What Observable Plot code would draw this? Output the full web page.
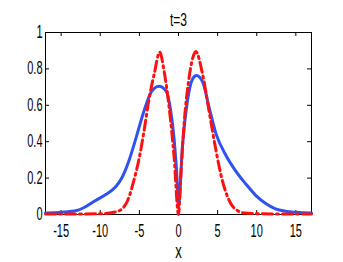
<!DOCTYPE html>
<html><head><meta charset="utf-8">
<script src="https://cdn.jsdelivr.net/npm/d3@7"></script>
<script src="https://cdn.jsdelivr.net/npm/@observablehq/plot@0.6"></script>
<style>body{margin:0;background:#fff}</style>
</head><body><div id="chart"></div>
<script>
// Data
const blueX = [-17, -15, -13, -12, -10.6, -9.3, -8, -7.2, -6.3, -5.5, -4.4, -3.5, -2.5, -1.6, -1, -0.55, -0.15, 0, 0.5, 1.15, 1.8, 2.3, 3.1, 3.9, 4.8, 6, 7.3, 8.6, 9.9, 11.2, 12.4, 13.7, 15, 17];
const blueY = [0.008, 0.012, 0.022, 0.04, 0.077, 0.11, 0.154, 0.205, 0.30, 0.41, 0.57, 0.672, 0.705, 0.68, 0.57, 0.41, 0.17, 0.04, 0.37, 0.626, 0.745, 0.764, 0.727, 0.59, 0.443, 0.33, 0.24, 0.168, 0.104, 0.059, 0.031, 0.018, 0.012, 0.008];
const redX = [-17, -12, -9.5, -8.3, -7.4, -6.5, -5.7, -5.0, -4.4, -3.8, -3.1, -2.4, -1.85, -1.2, -0.56, 0, 0.3, 0.72, 1.36, 2.0, 2.2, 3.07, 3.9, 4.8, 5.6, 6.7, 7.6, 8.5, 12, 17];
const redY = [0.003, 0.003, 0.005, 0.012, 0.025, 0.077, 0.187, 0.315, 0.46, 0.626, 0.773, 0.892, 0.79, 0.59, 0.315, 0, 0.22, 0.5, 0.754, 0.883, 0.895, 0.773, 0.57, 0.35, 0.187, 0.059, 0.02, 0.008, 0.003, 0.003];
const xTicks = [-15, -10, -5, 0, 5, 10, 15];
const xTickLabels = ["-15", "-10", "-5", "0", "5", "10", "15"];
const yTicks = [0, 0.2, 0.4, 0.6, 0.8, 1];
const yTickLabels = ["0", "0.2", "0.4", "0.6", "0.8", "1"];
const title = "t=3";
const xLabel = "x";

const blue = blueX.map((x, i) => ({x, y: blueY[i]}));
const red = redX.map((x, i) => ({x, y: redY[i]}));

const W = 343, H = 262, mL = 45, mR = 32, mT = 32, mB = 48;
const fw = W - mL - mR, fh = H - mT - mB, tk = 4;

const chart = Plot.plot({
  width: W, height: H,
  marginLeft: mL, marginRight: mR, marginTop: mT, marginBottom: mB,
  style: {fontFamily: "'Liberation Sans', Arial, sans-serif", fontSize: "11px", background: "#fff", color: "#000"},
  x: {domain: [-17, 17], axis: null},
  y: {domain: [0, 1], axis: null},
  marks: [
    Plot.frame({stroke: "#000", strokeWidth: 1}),
    Plot.tickX(xTicks, {x: d => d, insetTop: fh - tk, stroke: "#000"}),
    Plot.tickX(xTicks, {x: d => d, insetBottom: fh - tk, stroke: "#000"}),
    Plot.tickY(yTicks, {y: d => d, insetRight: fw - tk, stroke: "#000"}),
    Plot.tickY(yTicks, {y: d => d, insetLeft: fw - tk, stroke: "#000"}),
    Plot.line(blue, {x: "x", y: "y", curve: "monotone-x", stroke: "#2f52f0", strokeWidth: 3}),
    Plot.line(red, {x: "x", y: "y", curve: "monotone-x", stroke: "#ff1010", strokeWidth: 3, strokeDasharray: "10,4,2,4"}),
    Plot.text(xTicks, {x: d => d, frameAnchor: "bottom", dy: 21, text: (d, i) => xTickLabels[i], fill: "#000"}),
    Plot.text(yTicks, {y: d => d, frameAnchor: "left", dx: -3, textAnchor: "end", text: (d, i) => yTickLabels[i], fill: "#000"}),
    Plot.text([title], {frameAnchor: "top", dy: -18, text: d => d, fontSize: 12, fill: "#000"}),
    Plot.text([xLabel], {frameAnchor: "bottom", dy: 41, text: d => d, fontSize: 13, fill: "#000"})
  ]
});

document.getElementById("chart").appendChild(chart);

// stretch text vertically like the reference, keeping each text's visual centre
d3.select(chart).selectAll("text").each(function() {
  const t = d3.select(this);
  const r0 = this.getBoundingClientRect();
  const c0 = r0.top + r0.height / 2;
  const x = +t.attr("x") || 0, y = +t.attr("y") || 0;
  const tr = t.attr("transform") || "";
  t.attr("x", null).attr("y", null).attr("transform", `${tr} translate(${x},${y}) scale(1,1.6)`);
  const r1 = this.getBoundingClientRect();
  const c1 = r1.top + r1.height / 2;
  t.attr("transform", `${tr} translate(${x},${y + (c0 - c1)}) scale(1,1.6)`);
});
</script>
</body></html>
